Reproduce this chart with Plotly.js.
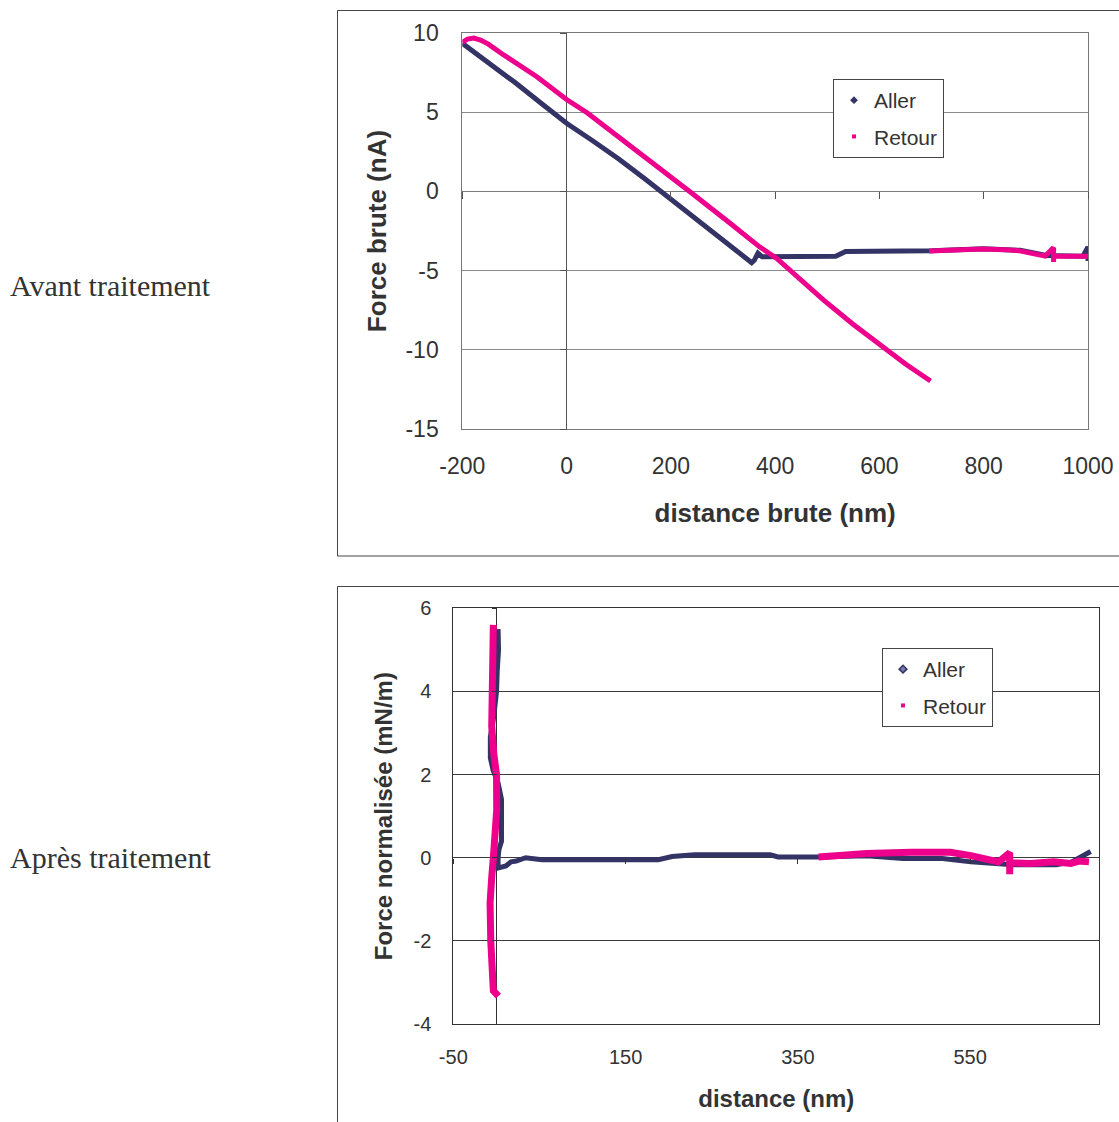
<!DOCTYPE html>
<html>
<head>
<meta charset="utf-8">
<script src="https://cdn.plot.ly/plotly-3.0.1.min.js"></script>
<style>
  html, body { margin: 0; padding: 0; background: #ffffff; }
  #chart { width: 1119px; height: 1122px; }
</style>
</head>
<body>
<div id="chart"></div>
<script>
// ---------- Data ----------
// Top chart : "Avant traitement" (raw force vs raw distance)
const rawAllerX = [-200, -150, -100, -50, 0, 50, 100, 150, 200, 250, 300, 355, 360, 367, 375, 450, 516, 535, 600, 700, 800, 870, 920, 960, 990, 1000, 1000];
const rawAllerY = [9.35, 8.15, 6.9, 5.6, 4.3, 3.2, 2.05, 0.8, -0.5, -1.75, -3.0, -4.5, -4.35, -3.9, -4.12, -4.12, -4.1, -3.8, -3.78, -3.75, -3.62, -3.72, -4.05, -4.1, -4.1, -3.5, -4.4];

const rawRetourX = [-200, -190, -178, -165, -150, -120, -57, 0, 40, 100, 150, 200, 236, 313, 370, 403, 467, 493, 550, 612, 650, 698,
                    null, 695, 750, 796, 840, 867, 918, 934, 934, 934, 960, 1000];
const rawRetourY = [9.4, 9.62, 9.68, 9.55, 9.3, 8.6, 7.24, 5.8, 4.95, 3.45, 2.15, 0.9, 0.0, -2.0, -3.5, -4.23, -6.12, -6.86, -8.4, -10.0, -10.9, -11.97,
                    null, -3.77, -3.7, -3.63, -3.68, -3.74, -4.08, -3.55, -4.45, -4.08, -4.1, -4.1];

// Bottom chart : "Après traitement" (normalised force vs distance)
const normAllerX = [2, 2.5, 1, 0.2, -3, -7, -7, -3.7, 2, 6, 6, 3, 2, 2,
                    11, 17, 23, 34, 53, 100, 155, 188, 204, 230, 318, 327, 374, 430, 472, 518, 551, 600, 639, 650, 668, 678, 690];
const normAllerY = [5.5, 5.0, 4.5, 4.0, 3.4, 2.9, 2.4, 2.1, 1.8, 1.4, 0.4, 0.2, 0, -0.25,
                    -0.2, -0.1, -0.08, 0, -0.05, -0.05, -0.05, -0.05, 0.03, 0.07, 0.07, 0.02, 0.02, 0.05, -0.02, -0.02, -0.1, -0.17, -0.17, -0.17, -0.1, 0.0, 0.15];

const normRetourX = [-3.5, -4.2, -5.4, -5.4, -3, 0.2, 0.4, -1, -3.5, -5.5, -7.3, -6.5, -5.5, -3.5, -3.5, 2.3,
                     null, 374, 430, 481, 527, 551, 583, 596, 596, 596, 620, 647, 667, 676, 688];
const normRetourY = [5.6, 4.84, 4.0, 3.16, 2.5, 2.0, 1.15, 0.5, 0, -0.5, -1.09, -2.0, -2.5, -2.85, -3.2, -3.33,
                     null, 0.02, 0.1, 0.13, 0.13, 0.05, -0.1, 0.12, -0.4, -0.12, -0.14, -0.1, -0.14, -0.08, -0.1];

const seriesNames = ['Aller', 'Retour'];
const topXTicks = [-200, 0, 200, 400, 600, 800, 1000];
const topXText  = ['-200', '0', '200', '400', '600', '800', '1000'];
const topYTicks = [-15, -10, -5, 0, 5, 10];
const topYText  = ['-15', '-10', '-5', '0', '5', '10'];
const botXTicks = [-50, 150, 350, 550];
const botXText  = ['-50', '150', '350', '550'];
const botYTicks = [-4, -2, 0, 2, 4, 6];
const botYText  = ['-4', '-2', '0', '2', '4', '6'];

// ---------- Styling ----------
const NAVY = '#333366';
const PINK = '#EC008C';
const TXT = '#333333';
const SANS = 'Liberation Sans, Arial, sans-serif';
const SERIF = 'Liberation Serif, Times New Roman, serif';
const W = 1119, H = 1122;
const fx = v => v / W;
const fy = v => 1 - v / H;

const traces = [
  {x: rawAllerX, y: rawAllerY, xaxis: 'x', yaxis: 'y', mode: 'lines', line: {color: NAVY, width: 5}, showlegend: false, hoverinfo: 'skip'},
  {x: rawRetourX, y: rawRetourY, xaxis: 'x', yaxis: 'y', mode: 'lines', line: {color: PINK, width: 5}, showlegend: false, hoverinfo: 'skip'},
  {x: normAllerX, y: normAllerY, xaxis: 'x2', yaxis: 'y2', mode: 'lines', line: {color: NAVY, width: 5}, showlegend: false, hoverinfo: 'skip'},
  {x: normRetourX, y: normRetourY, xaxis: 'x2', yaxis: 'y2', mode: 'lines', line: {color: PINK, width: 7}, showlegend: false, hoverinfo: 'skip'},
  // legend entries
  {x: [null], y: [null], xaxis: 'x', yaxis: 'y', mode: 'markers', name: seriesNames[0], legend: 'legend', legendgroup: 'a1',
   marker: {symbol: 'diamond', size: 6, color: NAVY}},
  {x: [null], y: [null], xaxis: 'x', yaxis: 'y', mode: 'markers', name: seriesNames[1], legend: 'legend', legendgroup: 'r1',
   marker: {symbol: 'square', size: 4, color: PINK}},
  {x: [null], y: [null], xaxis: 'x2', yaxis: 'y2', mode: 'markers', name: seriesNames[0], legend: 'legend2', legendgroup: 'a2',
   marker: {symbol: 'diamond', size: 6, color: '#7a7aa6', line: {width: 1.5, color: NAVY}}},
  {x: [null], y: [null], xaxis: 'x2', yaxis: 'y2', mode: 'markers', name: seriesNames[1], legend: 'legend2', legendgroup: 'r2',
   marker: {symbol: 'square', size: 4, color: PINK}},
  // carriers for the tick marks drawn on the zero lines
  {x: [null], y: [null], xaxis: 'x3', yaxis: 'y3', showlegend: false, hoverinfo: 'skip'},
  {x: [null], y: [null], xaxis: 'x4', yaxis: 'y4', showlegend: false, hoverinfo: 'skip'}
];

const topDomX = [fx(462.3), fx(1088)];
const topDomY = [fy(429), fy(33)];
const botDomX = [fx(453.3), fx(1099.3)];
const botDomY = [fy(1024), fy(608.3)];

const layout = {
  width: W, height: H,
  margin: {l: 0, r: 0, t: 0, b: 0},
  paper_bgcolor: '#ffffff', plot_bgcolor: '#ffffff',
  font: {family: SANS, color: TXT},
  showlegend: true,
  // ---- top chart ----
  xaxis: {
    domain: topDomX, anchor: 'y', range: [-200, 1000], tickmode: 'array', tickvals: topXTicks, ticktext: topXText,
    showgrid: false, zeroline: true, zerolinecolor: '#555555', zerolinewidth: 1,
    showline: true, mirror: true, linecolor: '#777777', linewidth: 1,
    ticks: 'outside', ticklen: 16, tickcolor: 'rgba(0,0,0,0)',
    tickfont: {size: 23, color: TXT, family: SANS},
    title: {text: '<b>distance brute (nm)</b>', font: {size: 26, color: TXT, family: SANS}, standoff: 26},
    automargin: false, fixedrange: true
  },
  yaxis: {
    domain: topDomY, anchor: 'x', range: [-15, 10], tickmode: 'array', tickvals: topYTicks, ticktext: topYText,
    showgrid: true, gridcolor: '#8c8c8c', gridwidth: 1,
    zeroline: true, zerolinecolor: '#7a7a7a', zerolinewidth: 1,
    showline: true, mirror: true, linecolor: '#777777', linewidth: 1,
    ticks: 'outside', ticklen: 18, tickcolor: 'rgba(0,0,0,0)',
    tickfont: {size: 23, color: TXT, family: SANS},
    title: {text: '<b>Force brute (nA)</b>', font: {size: 26, color: TXT, family: SANS}, standoff: 11},
    automargin: false, fixedrange: true
  },
  xaxis3: {
    overlaying: 'x', anchor: 'free', position: fy(191.4), range: [-200, 1000], tickmode: 'array', tickvals: topXTicks,
    ticks: 'outside', ticklen: 7, tickcolor: '#555555', showticklabels: false,
    showgrid: false, zeroline: false, showline: false, fixedrange: true
  },
  yaxis3: {
    overlaying: 'y', anchor: 'free', position: fx(566.6), side: 'left', range: [-15, 10], tickmode: 'array', tickvals: topYTicks,
    ticks: 'outside', ticklen: 7, tickcolor: '#555555', showticklabels: false,
    showgrid: false, zeroline: false, showline: false, fixedrange: true
  },
  // ---- bottom chart ----
  xaxis2: {
    domain: botDomX, anchor: 'y2', range: [-50, 700], tickmode: 'array', tickvals: botXTicks, ticktext: botXText,
    showgrid: false, zeroline: true, zerolinecolor: '#333333', zerolinewidth: 1,
    showline: true, mirror: true, linecolor: '#333333', linewidth: 1,
    ticks: 'outside', ticklen: 15, tickcolor: 'rgba(0,0,0,0)',
    tickfont: {size: 20, color: TXT, family: SANS},
    title: {text: '<b>distance (nm)</b>', font: {size: 24, color: TXT, family: SANS}, standoff: 23},
    automargin: false, fixedrange: true
  },
  yaxis2: {
    domain: botDomY, anchor: 'x2', range: [-4, 6], tickmode: 'array', tickvals: botYTicks, ticktext: botYText,
    showgrid: true, gridcolor: '#3c3c3c', gridwidth: 1,
    zeroline: true, zerolinecolor: '#3c3c3c', zerolinewidth: 1,
    showline: true, mirror: true, linecolor: '#333333', linewidth: 1,
    ticks: 'outside', ticklen: 17, tickcolor: 'rgba(0,0,0,0)',
    tickfont: {size: 20, color: TXT, family: SANS},
    title: {text: '<b>Force normalisée (mN/m)</b>', font: {size: 24, color: TXT, family: SANS}, standoff: 14},
    automargin: false, fixedrange: true
  },
  xaxis4: {
    overlaying: 'x2', anchor: 'free', position: fy(858), range: [-50, 700], tickmode: 'array', tickvals: botXTicks,
    ticks: 'outside', ticklen: 5, tickcolor: '#333333', showticklabels: false,
    showgrid: false, zeroline: false, showline: false, fixedrange: true
  },
  yaxis4: {
    overlaying: 'y2', anchor: 'free', position: fx(496.6), side: 'left', range: [-4, 6], tickmode: 'array', tickvals: botYTicks,
    ticks: 'outside', ticklen: 5, tickcolor: '#333333', showticklabels: false,
    showgrid: false, zeroline: false, showline: false, fixedrange: true
  },
  legend: {
    x: fx(833), y: fy(79), xanchor: 'left', yanchor: 'top',
    bgcolor: '#ffffff', bordercolor: '#444444', borderwidth: 1,
    font: {size: 21, color: TXT, family: SANS}, tracegroupgap: 6
  },
  legend2: {
    x: fx(882), y: fy(648), xanchor: 'left', yanchor: 'top',
    bgcolor: '#ffffff', bordercolor: '#444444', borderwidth: 1,
    font: {size: 21, color: TXT, family: SANS}, tracegroupgap: 6
  },
  shapes: [
    {type: 'rect', xref: 'paper', yref: 'paper', x0: fx(337.5), x1: 1.02, y0: fy(556), y1: fy(10.5),
     line: {color: '#444444', width: 1}, fillcolor: 'rgba(0,0,0,0)', layer: 'below'},
    {type: 'rect', xref: 'paper', yref: 'paper', x0: fx(337.5), x1: 1.02, y0: -0.02, y1: fy(586.5),
     line: {color: '#444444', width: 1}, fillcolor: 'rgba(0,0,0,0)', layer: 'below'}
  ],
  annotations: [
    {text: 'Avant traitement', xref: 'paper', yref: 'paper', x: fx(8), y: fy(285), xanchor: 'left', yanchor: 'middle',
     showarrow: false, font: {family: SERIF, size: 30, color: TXT}},
    {text: 'Après traitement', xref: 'paper', yref: 'paper', x: fx(8), y: fy(858), xanchor: 'left', yanchor: 'middle',
     showarrow: false, font: {family: SERIF, size: 30, color: TXT}}
  ]
};

Plotly.newPlot('chart', traces, layout, {displayModeBar: false, staticPlot: true});
</script>
</body>
</html>
